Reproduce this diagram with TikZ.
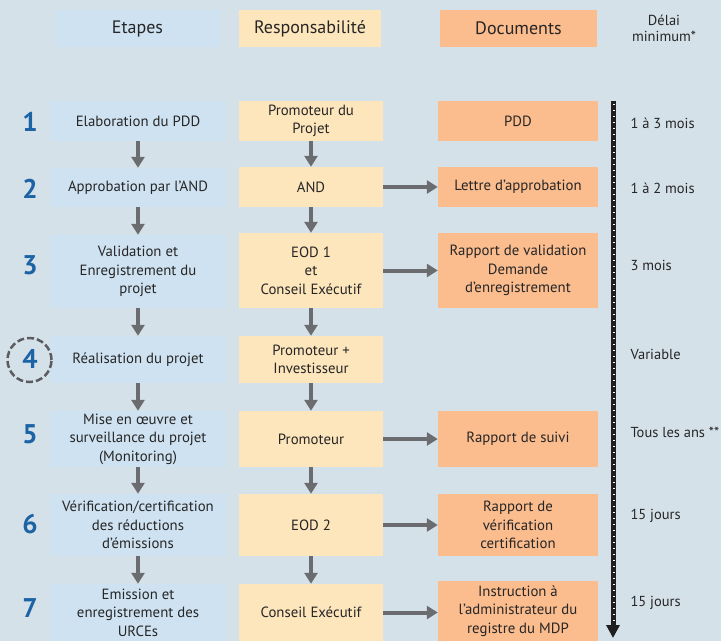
\documentclass[tikz,border=0pt]{standalone}
\usepackage{fontspec}
\setmainfont{PT Sans}
\usepackage{tikz}
\usetikzlibrary{arrows.meta}
\tikzset{>={Triangle[length=11pt,width=13pt]}}
\usepackage{xcolor}
\definecolor{fond}{HTML}{D5E1E9}
\definecolor{etp}{HTML}{CFE2F1}
\definecolor{rsp}{HTML}{FDE5BC}
\definecolor{dcm}{HTML}{FBBC8E}
\definecolor{g1}{HTML}{6B6C70}
\definecolor{b1}{HTML}{1C63A5}
\definecolor{txt}{HTML}{262626}
\tikzstyle{box}=[align=center,inner sep=2pt,text=txt,font=\fontsize{14.8}{18.5}\selectfont]
\tikzstyle{etape}=[box,fill=etp,minimum width=176pt]
\tikzstyle{resp}=[box,fill=rsp,minimum width=144pt]
\tikzstyle{doc}=[box,fill=dcm,minimum width=160pt]
\tikzstyle{head}=[font=\fontsize{18}{20}\selectfont,minimum height=37pt]
\tikzstyle{num}=[text=b1,font=\fontsize{27}{27}\bfseries\selectfont]
\tikzstyle{delai}=[text=txt,font=\fontsize{14.5}{16}\selectfont,anchor=west,align=center]
\tikzstyle{fleche}=[->,g1,line width=4pt]

\begin{document}
\begin{tikzpicture}[x=1pt,y=-1pt]
  \fill[fond] (0,0) rectangle (721,641);
  \clip (0,0) rectangle (721,641);
  % en-tetes
  \node[etape,head,minimum width=165pt] (hE) at (137.5,28.5) {Etapes};
  \node[resp,head,minimum width=142pt] (hR) at (310,28.5) {Responsabilité};
  \node[doc,head,minimum width=157pt] (hD) at (518.5,28.5) {Documents};
  \node[delai,anchor=center] (hT) at (664,28) {Délai\\minimum*};

  \node[etape,minimum height=40pt] (e1) at (138,121) {Elaboration du PDD};
  \node[resp,minimum height=40pt] (r1) at (311,121) {Promoteur du\\Projet};
  \node[doc,minimum height=40pt] (d1) at (518,121) {PDD};

  \node[etape,minimum height=39pt] (e2) at (138,187.5) {Approbation par l'AND};
  \node[resp,minimum height=40pt] (r2) at (311,187) {AND};
  \node[doc,minimum height=40pt] (d2) at (518,187) {Lettre d'approbation};

  \node[etape,minimum height=73pt] (e3) at (138,271.5) {Validation et\\Enregistrement du\\projet};
  \node[resp,minimum height=75pt] (r3) at (311,270.5) {EOD 1\\et\\Conseil Exécutif};
  \node[doc,minimum height=75pt] (d3) at (518,270.5) {Rapport de validation\\Demande\\d'enregistrement};

  \node[etape,minimum height=47pt] (e4) at (138,359.5) {Réalisation du projet};
  \node[resp,minimum height=47pt] (r4) at (311,359.5) {Promoteur +\\Investisseur};

  \node[etape,minimum height=56pt] (e5) at (138,439) {Mise en œuvre et\\surveillance du projet\\(Monitoring)};
  \node[resp,minimum height=56pt] (r5) at (311,439) {Promoteur};
  \node[doc,minimum height=56pt] (d5) at (518,439) {Rapport de suivi};

  \node[etape,minimum height=62pt] (e6) at (138,525) {Vérification/certification\\des réductions\\d'émissions};
  \node[resp,minimum height=62pt] (r6) at (311,525) {EOD 2};
  \node[doc,minimum height=62pt] (d6) at (518,525) {Rapport de\\vérification\\certification};

  \node[etape,minimum height=57pt] (e7) at (138,612.5) {Emission et\\enregistrement des\\URCEs};
  \node[resp,minimum height=57pt] (r7) at (311,612.5) {Conseil Exécutif};
  \node[doc,minimum height=60pt] (d7) at (518,611) {Instruction à\\l'administrateur du\\registre du MDP};

  \foreach \i/\y in {1/122,2/189,3/265,4/359,5/434,6/524,7/608}
    \node[num] (n\i) at (30,\y) {\i};
  \draw[g1!85!black,line width=2.5pt,dash pattern=on 7pt off 3pt] (29.5,360) circle (22pt);

  \foreach \i/\j in {1/2,2/3,3/4,4/5,5/6,6/7} {
    \draw[fleche] (e\i) -- (e\j);
    \draw[fleche] (r\i) -- (r\j);
  }
  \foreach \i in {2,3,5,6,7}
    \draw[fleche] (r\i.east) -- (r\i.east -| d\i.west);

  % axe du temps
  \coordinate (t0) at (613,101);
  \coordinate (t1) at (613,638);
  \draw[-{Triangle[length=13pt,width=13pt]},line width=5pt,black!88] (t0) -- (t1);
  \draw[white,line width=2.5pt,dash pattern=on 1pt off 5pt] (614.2,104) -- (614.2,622);

  \node[delai] (l1) at (627,123) {1 à 3 mois};
  \node[delai] (l2) at (627,188) {1 à 2 mois};
  \node[delai] (l3) at (627,265) {3 mois};
  \node[delai] (l4) at (627,354) {Variable};
  \node[delai] (l5) at (627,432) {Tous les ans **};
  \node[delai] (l6) at (627,516) {15 jours};
  \node[delai] (l7) at (627,603) {15 jours};
\end{tikzpicture}
\end{document}
